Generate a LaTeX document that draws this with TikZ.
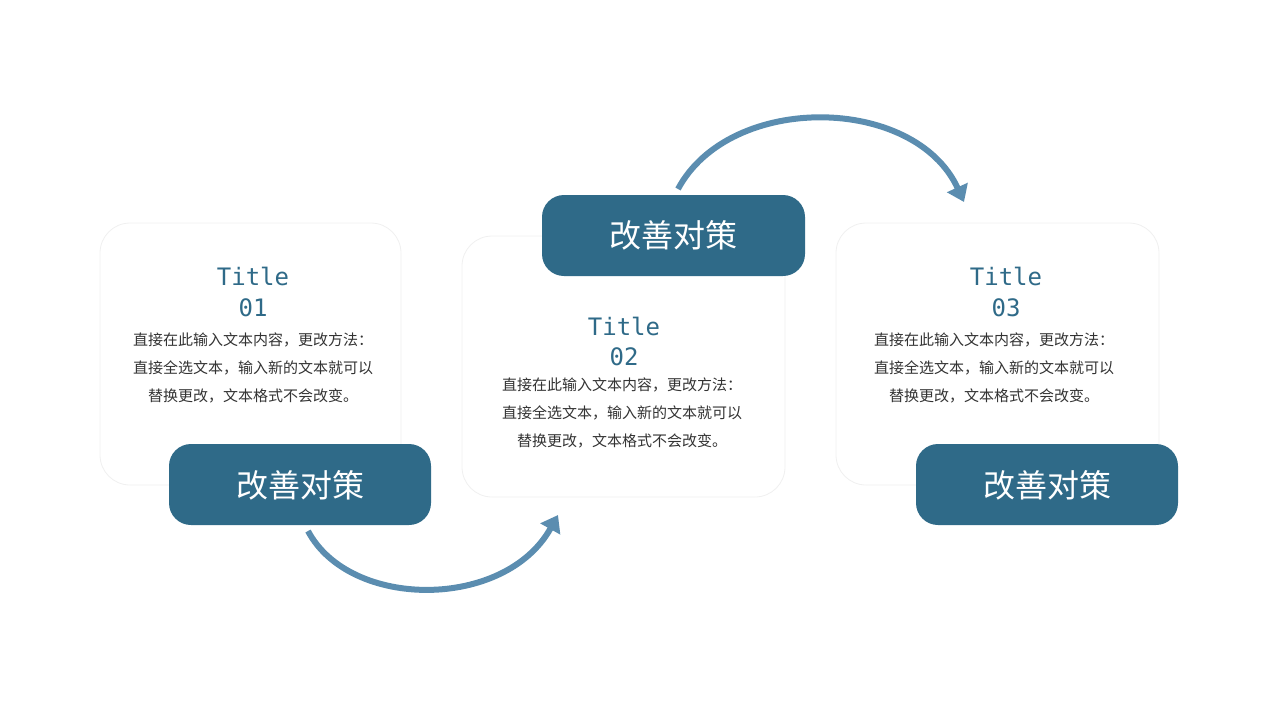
\documentclass[tikz,border=0pt]{standalone}
\usepackage{fontspec}
\newfontfamily\cjk{Noto Sans CJK SC}
\newfontfamily\monof{DejaVu Sans Mono}
\usetikzlibrary{arrows.meta}
\definecolor{teal}{HTML}{2F6A88}
\definecolor{arc}{HTML}{5B8DB0}
\definecolor{txt}{HTML}{333333}
\tikzset{
 card/.style={draw=gray!12,fill=white,rounded corners=15pt,line width=0.4pt},
 banner/.style={fill=teal,rounded corners=11pt},
 btext/.style={text=white,font=\cjk\fontsize{16}{18}\selectfont},
 ttext/.style={text=teal,font=\monof\fontsize{12}{14}\selectfont},
 body/.style={text=txt,font=\cjk\fontsize{7.5}{14}\selectfont,align=center},
 arcline/.style={draw=arc,line width=3pt,-{Triangle[length=8pt,width=11pt]}}
}
\begin{document}
\begin{tikzpicture}[x=0.5pt,y=-0.5pt]
\useasboundingbox (0,0) rectangle (1280,720);
\draw[card] (100,223) rectangle (401,485);
\draw[card] (462,236) rectangle (785,497);
\draw[card] (836,223) rectangle (1159,485);
\fill[banner] (169,444) rectangle (431,525);
\fill[banner] (542,195) rectangle (805,276);
\fill[banner] (916,444) rectangle (1178,525);
\node[btext] (b1) at (300,485) {改善对策};
\node[btext] (b2) at (673,235) {改善对策};
\node[btext] (b3) at (1047,485) {改善对策};
\node[ttext] (t1) at (253,276) {Title};
\node[ttext] (n1) at (253,308) {01};
\node[ttext] (t2) at (624,326) {Title};
\node[ttext] (n2) at (624,357) {02};
\node[ttext] (t3) at (1006,276) {Title};
\node[ttext] (n3) at (1006,308) {03};
\node[body] (d1) at (253,368) {直接在此输入文本内容，更改方法：\\直接全选文本，输入新的文本就可以\\替换更改，文本格式不会改变。};
\node[body] (d2) at (622,413) {直接在此输入文本内容，更改方法：\\直接全选文本，输入新的文本就可以\\替换更改，文本格式不会改变。};
\node[body] (d3) at (994,368) {直接在此输入文本内容，更改方法：\\直接全选文本，输入新的文本就可以\\替换更改，文本格式不会改变。};
\coordinate (a1s) at (308,531);
\coordinate (a1e) at (558,515);
\coordinate (a2s) at (678,189);
\coordinate (a2e) at (964,202);
\draw[arcline] (a1s) .. controls (350,610) and (505,610) .. (a1e);
\draw[arcline] (a2s) .. controls (730,92) and (915,95) .. (a2e);
\end{tikzpicture}
\end{document}
